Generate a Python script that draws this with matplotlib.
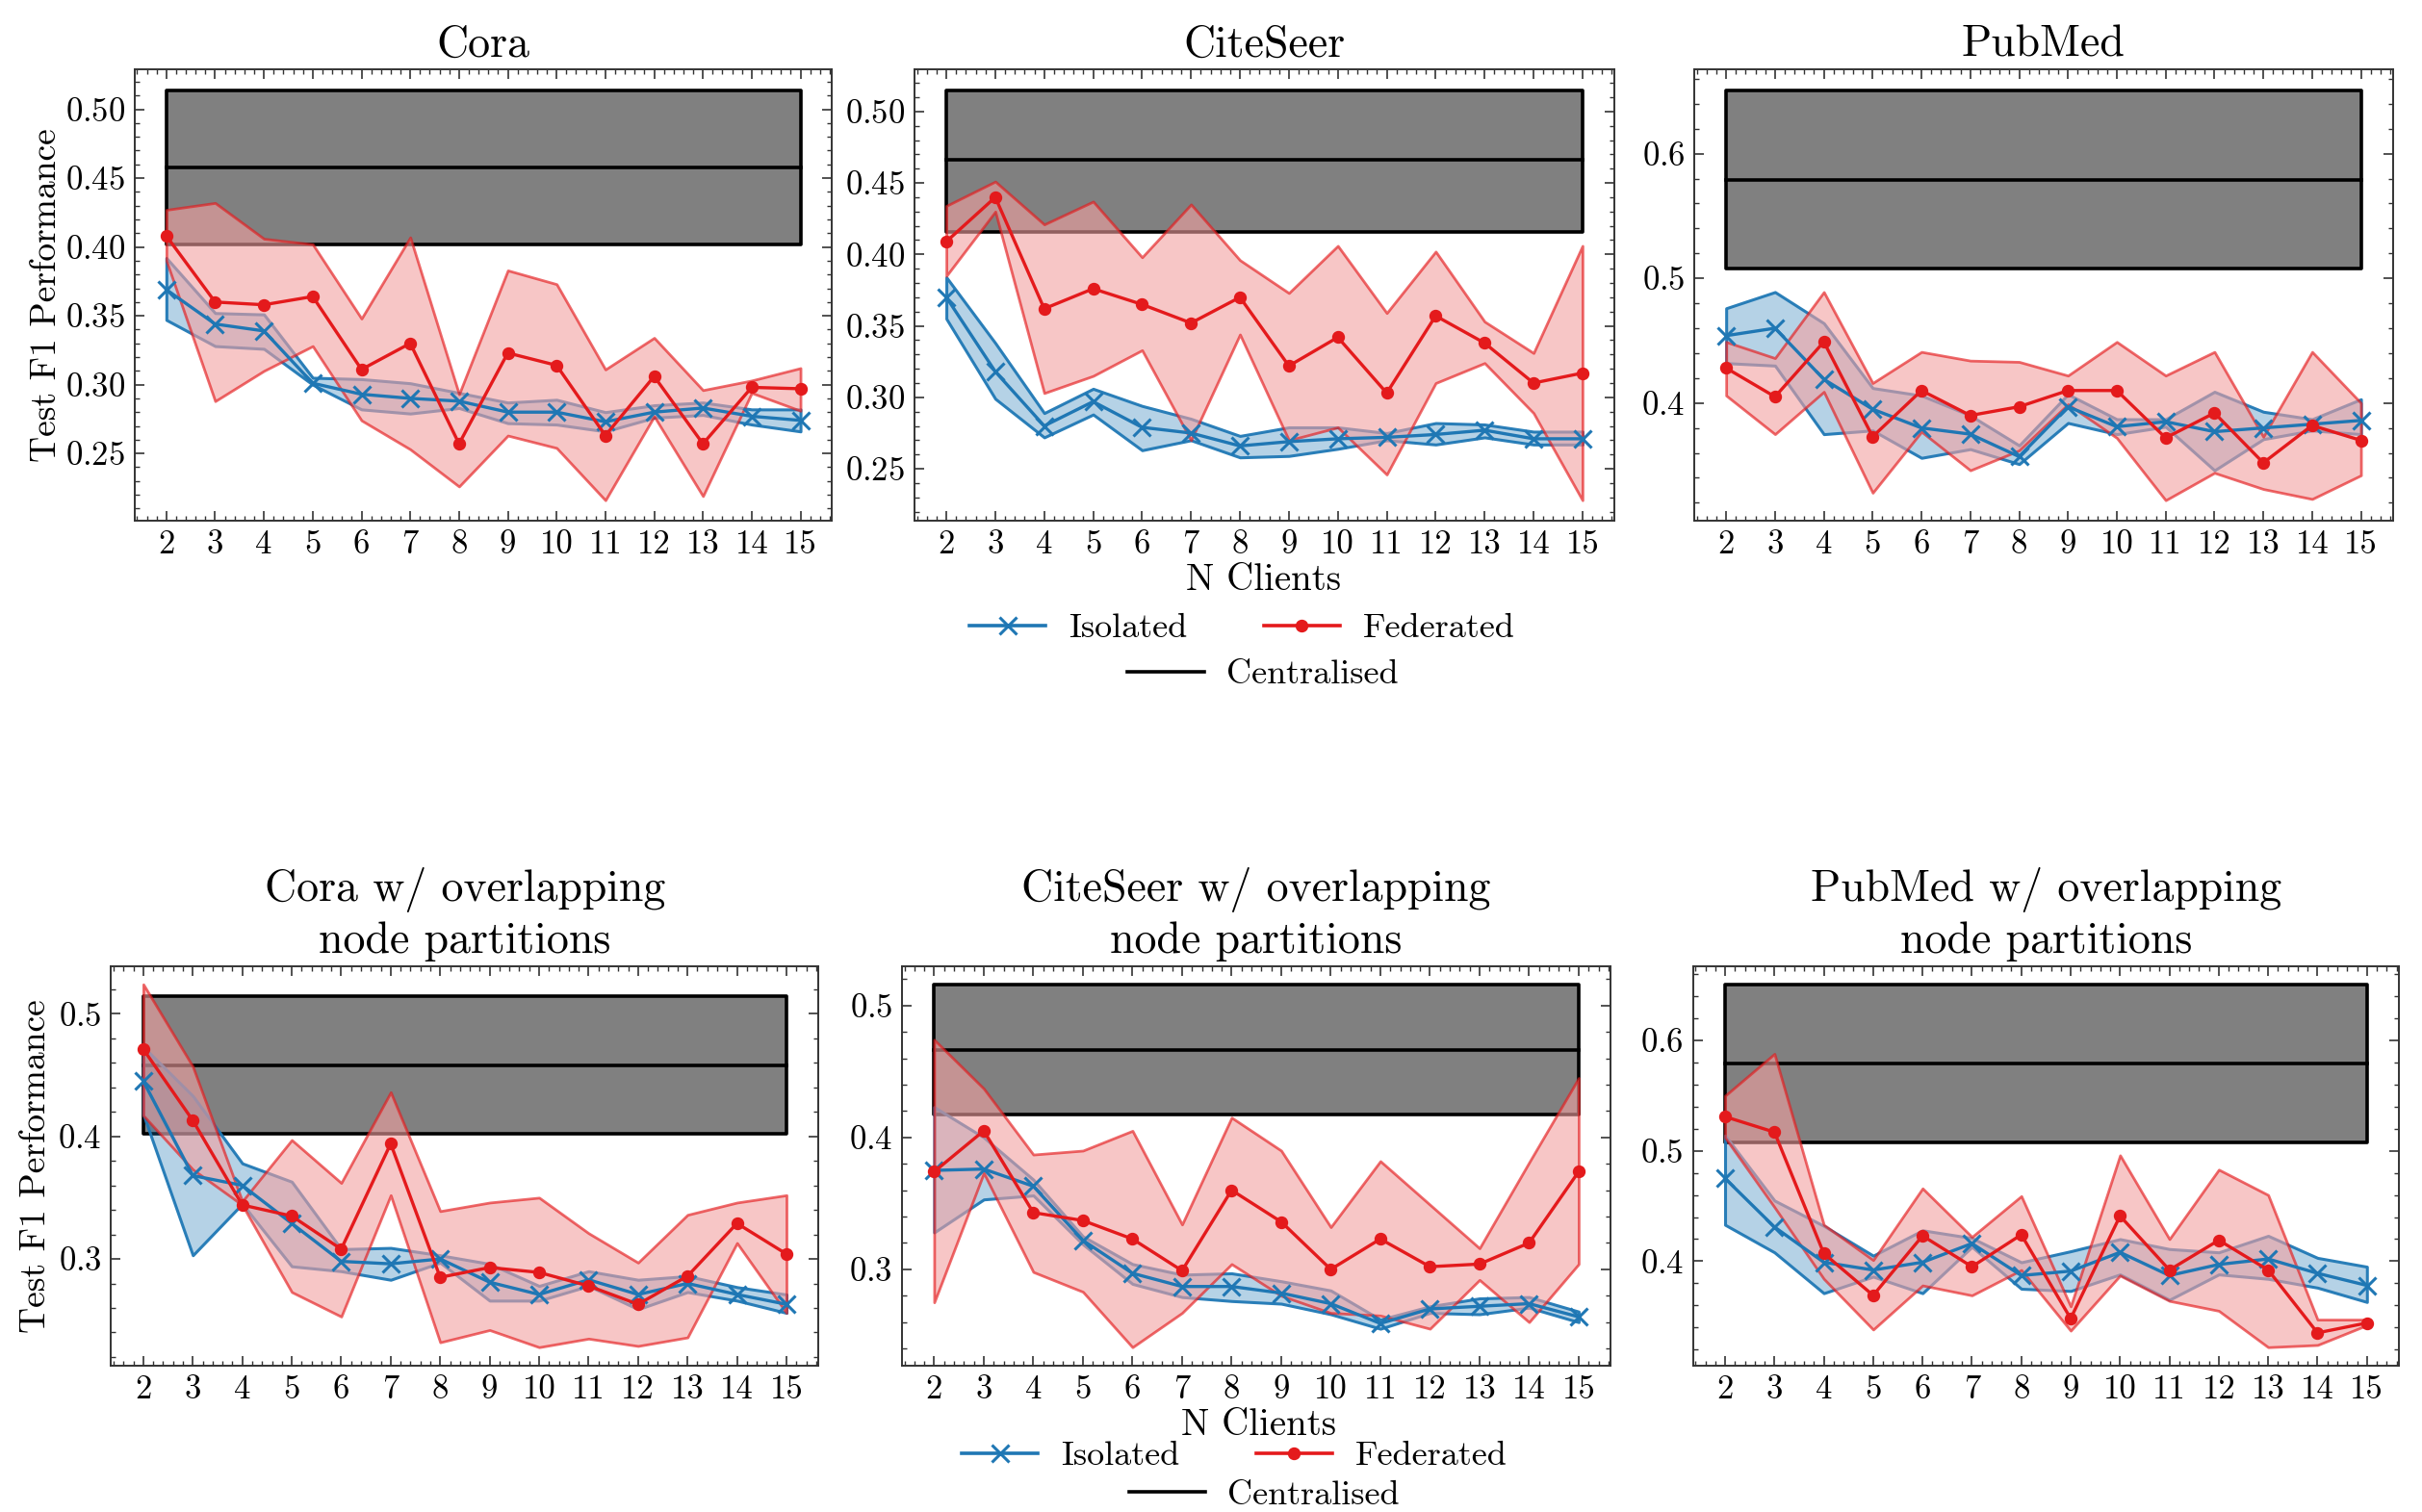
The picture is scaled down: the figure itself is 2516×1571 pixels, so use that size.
import matplotlib
matplotlib.use("Agg")
import matplotlib.pyplot as plt
from matplotlib.ticker import MultipleLocator, AutoMinorLocator
from matplotlib.lines import Line2D

plt.rcParams.update({
    "font.family": "serif",
    "font.serif": ["cmr10"],
    "mathtext.fontset": "cm",
    "axes.formatter.use_mathtext": True,
    "axes.unicode_minus": False,
    "xtick.direction": "in",
    "ytick.direction": "in",
    "xtick.top": True,
    "ytick.right": True,
    "xtick.minor.visible": True,
    "ytick.minor.visible": True,
    "xtick.major.size": 3.5,
    "ytick.major.size": 3.5,
    "xtick.minor.size": 1.8,
    "ytick.minor.size": 1.8,
    "xtick.major.width": 0.6,
    "ytick.major.width": 0.6,
    "xtick.minor.width": 0.5,
    "ytick.minor.width": 0.5,
    "axes.linewidth": 0.7,
    "axes.edgecolor": "#333333",
    "xtick.color": "#333333",
    "ytick.color": "#333333",
    "xtick.labelcolor": "black",
    "ytick.labelcolor": "black",
})

n_clients = [2, 3, 4, 5, 6, 7, 8, 9, 10, 11, 12, 13, 14, 15]
titles = ["Cora", "CiteSeer", "PubMed",
          "Cora w/ overlapping\nnode partitions",
          "CiteSeer w/ overlapping\nnode partitions",
          "PubMed w/ overlapping\nnode partitions"]

# Centralised: (lower, mean, upper)
cora_central = [0.402, 0.458, 0.514]
citeseer_central = [0.416, 0.466, 0.515]
pubmed_central = [0.508, 0.579, 0.651]
cora_ov_central = [0.402, 0.458, 0.514]
citeseer_ov_central = [0.417, 0.466, 0.516]
pubmed_ov_central = [0.508, 0.579, 0.651]

# ---- Cora ----
cora_iso = [0.369, 0.344, 0.339, 0.301, 0.293, 0.290, 0.288, 0.280, 0.280, 0.273, 0.280, 0.283, 0.277, 0.274]
cora_iso_hi = [0.392, 0.352, 0.351, 0.305, 0.304, 0.301, 0.294, 0.287, 0.289, 0.280, 0.285, 0.287, 0.282, 0.282]
cora_iso_lo = [0.347, 0.328, 0.326, 0.300, 0.282, 0.279, 0.283, 0.272, 0.271, 0.266, 0.276, 0.278, 0.271, 0.266]
cora_fed = [0.408, 0.360, 0.358, 0.364, 0.311, 0.330, 0.257, 0.323, 0.314, 0.263, 0.306, 0.257, 0.298, 0.297]
cora_fed_hi = [0.427, 0.432, 0.406, 0.402, 0.348, 0.407, 0.293, 0.383, 0.373, 0.311, 0.334, 0.296, 0.303, 0.312]
cora_fed_lo = [0.390, 0.288, 0.310, 0.328, 0.274, 0.253, 0.226, 0.263, 0.254, 0.216, 0.277, 0.219, 0.294, 0.281]

# ---- CiteSeer ----
citeseer_iso = [0.370, 0.318, 0.280, 0.297, 0.279, 0.275, 0.266, 0.269, 0.271, 0.272, 0.274, 0.277, 0.271, 0.271]
citeseer_iso_hi = [0.384, 0.338, 0.289, 0.306, 0.294, 0.285, 0.273, 0.279, 0.279, 0.275, 0.282, 0.281, 0.276, 0.276]
citeseer_iso_lo = [0.355, 0.299, 0.272, 0.288, 0.263, 0.270, 0.258, 0.259, 0.264, 0.270, 0.267, 0.272, 0.267, 0.267]
citeseer_fed = [0.409, 0.440, 0.362, 0.376, 0.365, 0.352, 0.370, 0.322, 0.342, 0.303, 0.357, 0.338, 0.310, 0.317]
citeseer_fed_hi = [0.434, 0.451, 0.421, 0.437, 0.398, 0.435, 0.396, 0.373, 0.406, 0.359, 0.402, 0.353, 0.331, 0.406]
citeseer_fed_lo = [0.385, 0.430, 0.303, 0.315, 0.333, 0.270, 0.344, 0.270, 0.279, 0.246, 0.310, 0.324, 0.289, 0.228]

# ---- PubMed ----
pubmed_iso = [0.454, 0.460, 0.419, 0.395, 0.380, 0.375, 0.357, 0.397, 0.381, 0.385, 0.377, 0.380, 0.383, 0.386]
pubmed_iso_hi = [0.476, 0.489, 0.464, 0.412, 0.406, 0.390, 0.366, 0.407, 0.387, 0.387, 0.409, 0.393, 0.387, 0.403]
pubmed_iso_lo = [0.432, 0.430, 0.375, 0.378, 0.356, 0.363, 0.351, 0.384, 0.375, 0.381, 0.346, 0.371, 0.378, 0.375]
pubmed_fed = [0.428, 0.405, 0.449, 0.373, 0.410, 0.390, 0.397, 0.410, 0.410, 0.372, 0.392, 0.352, 0.382, 0.370]
pubmed_fed_hi = [0.449, 0.436, 0.489, 0.416, 0.441, 0.434, 0.433, 0.422, 0.449, 0.422, 0.441, 0.373, 0.441, 0.400]
pubmed_fed_lo = [0.406, 0.375, 0.409, 0.328, 0.377, 0.346, 0.362, 0.399, 0.372, 0.322, 0.344, 0.331, 0.323, 0.342]

# ---- Cora w/ overlapping ----
cora_ov_iso = [0.445, 0.368, 0.360, 0.329, 0.298, 0.296, 0.300, 0.281, 0.271, 0.283, 0.271, 0.280, 0.271, 0.263]
cora_ov_iso_hi = [0.473, 0.433, 0.378, 0.363, 0.308, 0.309, 0.303, 0.296, 0.278, 0.290, 0.283, 0.286, 0.277, 0.271]
cora_ov_iso_lo = [0.418, 0.303, 0.345, 0.294, 0.290, 0.283, 0.297, 0.266, 0.266, 0.278, 0.259, 0.273, 0.266, 0.256]
cora_ov_fed = [0.471, 0.413, 0.344, 0.335, 0.308, 0.394, 0.285, 0.293, 0.289, 0.278, 0.263, 0.286, 0.329, 0.304]
cora_ov_fed_hi = [0.524, 0.457, 0.347, 0.397, 0.362, 0.436, 0.339, 0.346, 0.350, 0.321, 0.297, 0.336, 0.346, 0.352]
cora_ov_fed_lo = [0.417, 0.373, 0.344, 0.273, 0.253, 0.352, 0.232, 0.242, 0.228, 0.235, 0.229, 0.236, 0.313, 0.256]

# ---- CiteSeer w/ overlapping ----
citeseer_ov_iso = [0.375, 0.376, 0.363, 0.322, 0.297, 0.287, 0.287, 0.282, 0.274, 0.259, 0.270, 0.272, 0.274, 0.264]
citeseer_ov_iso_hi = [0.423, 0.400, 0.368, 0.325, 0.304, 0.296, 0.297, 0.291, 0.284, 0.262, 0.272, 0.278, 0.279, 0.268]
citeseer_ov_iso_lo = [0.328, 0.353, 0.356, 0.319, 0.289, 0.279, 0.276, 0.274, 0.266, 0.255, 0.267, 0.266, 0.271, 0.260]
citeseer_ov_fed = [0.374, 0.405, 0.343, 0.337, 0.323, 0.299, 0.360, 0.336, 0.300, 0.323, 0.302, 0.304, 0.320, 0.374]
citeseer_ov_fed_hi = [0.474, 0.437, 0.387, 0.390, 0.405, 0.334, 0.415, 0.390, 0.332, 0.382, 0.349, 0.316, 0.381, 0.445]
citeseer_ov_fed_lo = [0.275, 0.373, 0.298, 0.283, 0.241, 0.267, 0.304, 0.280, 0.267, 0.265, 0.255, 0.292, 0.260, 0.304]

# ---- PubMed w/ overlapping ----
pubmed_ov_iso = [0.475, 0.431, 0.399, 0.392, 0.399, 0.416, 0.387, 0.391, 0.408, 0.387, 0.397, 0.402, 0.389, 0.378]
pubmed_ov_iso_hi = [0.514, 0.455, 0.432, 0.405, 0.428, 0.421, 0.399, 0.409, 0.420, 0.411, 0.408, 0.423, 0.403, 0.395]
pubmed_ov_iso_lo = [0.433, 0.408, 0.371, 0.386, 0.371, 0.413, 0.375, 0.373, 0.388, 0.365, 0.388, 0.384, 0.376, 0.363]
pubmed_ov_fed = [0.531, 0.517, 0.407, 0.369, 0.423, 0.395, 0.424, 0.348, 0.441, 0.392, 0.419, 0.392, 0.335, 0.344]
pubmed_ov_fed_hi = [0.550, 0.588, 0.433, 0.401, 0.466, 0.422, 0.459, 0.359, 0.496, 0.420, 0.483, 0.460, 0.347, 0.347]
pubmed_ov_fed_lo = [0.512, 0.449, 0.384, 0.338, 0.378, 0.369, 0.392, 0.337, 0.387, 0.364, 0.355, 0.322, 0.324, 0.342]

panels = [
    (cora_central, cora_iso, cora_iso_lo, cora_iso_hi, cora_fed, cora_fed_lo, cora_fed_hi),
    (citeseer_central, citeseer_iso, citeseer_iso_lo, citeseer_iso_hi, citeseer_fed, citeseer_fed_lo, citeseer_fed_hi),
    (pubmed_central, pubmed_iso, pubmed_iso_lo, pubmed_iso_hi, pubmed_fed, pubmed_fed_lo, pubmed_fed_hi),
    (cora_ov_central, cora_ov_iso, cora_ov_iso_lo, cora_ov_iso_hi, cora_ov_fed, cora_ov_fed_lo, cora_ov_fed_hi),
    (citeseer_ov_central, citeseer_ov_iso, citeseer_ov_iso_lo, citeseer_ov_iso_hi, citeseer_ov_fed, citeseer_ov_fed_lo, citeseer_ov_fed_hi),
    (pubmed_ov_central, pubmed_ov_iso, pubmed_ov_iso_lo, pubmed_ov_iso_hi, pubmed_ov_fed, pubmed_ov_fed_lo, pubmed_ov_fed_hi),
]

BLUE = "#1f77b4"
RED = "#e41a1c"
RED_FACE = (243 / 255, 160 / 255, 160 / 255, 0.6)
RED_EDGE = (0.894, 0.10, 0.11, 0.65)
BLUE_FACE = (0.12, 0.47, 0.71, 0.33)
BLUE_EDGE = (0.12, 0.47, 0.71, 0.95)

fig = plt.figure(figsize=(12.58, 7.855), dpi=200)

positions = [
    [0.0556, 0.6556, 0.2880, 0.2984],
    [0.3776, 0.6556, 0.2889, 0.2984],
    [0.6996, 0.6556, 0.2883, 0.2984],
    [0.0459, 0.0970, 0.2921, 0.2640],
    [0.3724, 0.0970, 0.2927, 0.2640],
    [0.6990, 0.0970, 0.2915, 0.2640],
]
ymajor = [0.05, 0.05, 0.1, 0.1, 0.1, 0.1]

for i, (pos, data) in enumerate(zip(positions, panels)):
    central, iso, iso_lo, iso_hi, fed, fed_lo, fed_hi = data
    ax = fig.add_axes(pos)
    x0, x1 = n_clients[0], n_clients[-1]
    ax.fill_between([x0, x1], [central[0]] * 2, [central[2]] * 2,
                    facecolor="gray", edgecolor="black", linewidth=1.3, zorder=1)
    ax.plot([x0, x1], [central[1]] * 2, color="black", linewidth=1.3, zorder=1.5)
    ax.fill_between(n_clients, iso_lo, iso_hi, facecolor=BLUE_FACE,
                    edgecolor=BLUE_EDGE, linewidth=1.1, zorder=2)
    ax.fill_between(n_clients, fed_lo, fed_hi, facecolor=RED_FACE,
                    edgecolor=RED_EDGE, linewidth=1.0, zorder=3)
    ax.plot(n_clients, iso, color=BLUE, marker="x", markersize=6.5, markeredgewidth=1.1,
            linewidth=1.2, zorder=4)
    ax.plot(n_clients, fed, color=RED, marker="o", markersize=3.8, linewidth=1.2, zorder=5)
    ax.set_xticks(n_clients)
    ax.set_xticklabels([str(n) for n in n_clients])
    ax.xaxis.set_minor_locator(AutoMinorLocator(5))
    ax.yaxis.set_major_locator(MultipleLocator(ymajor[i]))
    ax.yaxis.set_minor_locator(AutoMinorLocator(5))
    ax.tick_params(axis="both", which="major", labelsize=12.5, pad=3.5)
    ax.set_title(titles[i], fontsize=16.5, pad=5, linespacing=1.3)
    if i in (0, 3):
        ax.set_ylabel("Test F1 Performance", fontsize=13.5)
        ax.yaxis.set_label_coords(-0.104 if i == 0 else -0.083, 0.5)

handles_a = [Line2D([], [], color=BLUE, marker="x", markersize=6.5, markeredgewidth=1.1, linewidth=1.3),
             Line2D([], [], color=RED, marker="o", markersize=3.8, linewidth=1.3)]
labels_a = ["Isolated", "Federated"]
handles_b = [Line2D([], [], color="black", linewidth=1.3)]
labels_b = ["Centralised"]

for (xl, yl), (la, ya), (lb, yb) in [((0.5217, 0.616), (0.5128, 0.5843), (0.5214, 0.5536)),
                                      ((0.5198, 0.0572), (0.5096, 0.0368), (0.522, 0.0112))]:
    fig.text(xl, yl, "N Clients", ha="center", va="center", fontsize=14)
    fig.legend(handles_a, labels_a, loc="center", bbox_to_anchor=(la, ya), ncol=2,
               frameon=False, fontsize=13, handlelength=2.2, handletextpad=0.65,
               columnspacing=2.2, borderpad=0, borderaxespad=0)
    fig.legend(handles_b, labels_b, loc="center", bbox_to_anchor=(lb, yb), ncol=1,
               frameon=False, fontsize=13, handlelength=2.2, handletextpad=0.65,
               borderpad=0, borderaxespad=0)

fig.savefig("out.png", dpi=200)
